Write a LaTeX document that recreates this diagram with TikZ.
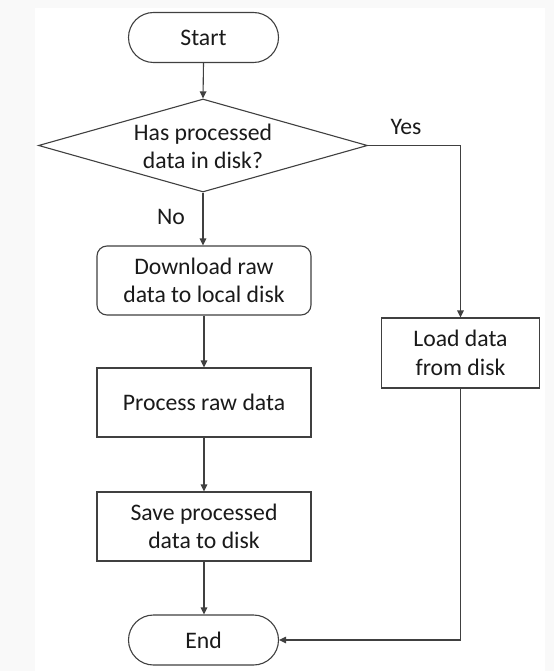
\documentclass[tikz,border=0pt]{standalone}
\usepackage{fontspec}
\setmainfont{Carlito}
\usetikzlibrary{shapes.geometric,arrows.meta}
\definecolor{bgray}{HTML}{F9F9F9}
\definecolor{lgray}{HTML}{404040}
\definecolor{tgray}{HTML}{1A1A1A}
\tikzset{
  base/.style={draw=lgray, line width=1.1pt, text=tgray, inner sep=0pt, align=center,
    font=\fontsize{23.7}{28.5}\selectfont},
  term/.style={base, rounded corners=25pt, minimum width=150pt, minimum height=50pt},
  procbox/.style={base, minimum width=214pt, minimum height=69pt},
  roundbox/.style={procbox, rounded corners=10pt},
  decbox/.style={draw=lgray, line width=1.1pt, shape=diamond, aspect=3.54,
    minimum width=329pt, minimum height=93pt, inner sep=0pt},
  lbl/.style={text=tgray, inner sep=0pt, font=\fontsize{23.7}{28.5}\selectfont, align=center},
  conn/.style={draw=lgray, line width=1.1pt, -{Triangle[width=6.5pt,length=7pt]}},
}
\begin{document}
\begin{tikzpicture}[x=1pt,y=-1pt]
  \fill[bgray] (0,0) rectangle (554,671);
  \fill[white] (35,8) rectangle (545,671);
  \useasboundingbox (0,0) rectangle (554,671);

  \node[term] (start) at (203.5,37.5) {Start};
  \node[decbox] (dec) at (203,145.5) {};
  \node[lbl] (dectext) at (203,146.5) {Has processed\\data in disk?};
  \node[roundbox] (dl) at (204,280.5) {Download raw\\data to local disk};
  \node[procbox] (proc) at (204,402.5) {Process raw data};
  \node[procbox] (save) at (204,526.5) {Save processed\\data to disk};
  \node[term] (end) at (203.5,640) {End};
  \node[procbox, minimum width=158pt, minimum height=70pt] (load) at (460.5,353) {Load data\\from disk};

  \node[lbl] (yes) at (406,127) {Yes};
  \node[lbl] (no) at (171,217) {No};

  \draw[conn] (start.south) -- (dec.north);
  \draw[conn] (dec.south) -- (dec.south |- dl.north);
  \draw[conn] (dec.east) -| (load.north);
  \draw[conn] (dl.south) -- (proc.north);
  \draw[conn] (proc.south) -- (save.north);
  \draw[conn] (save.south) -- (save.south |- end.north);
  \draw[conn] (load.south) |- (end.east);
\end{tikzpicture}
\end{document}
